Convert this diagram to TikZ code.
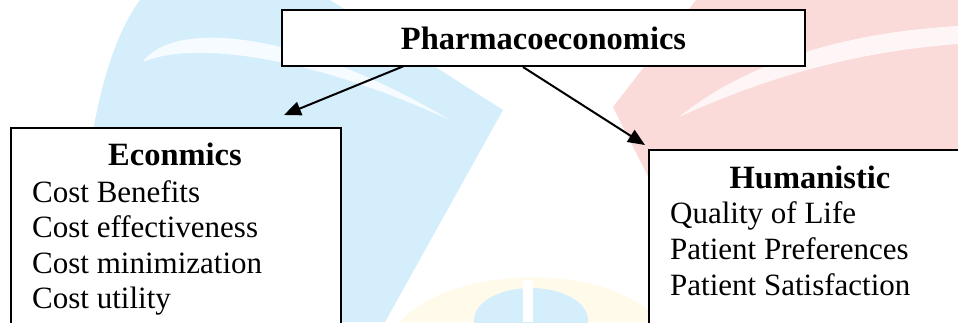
\documentclass[tikz,border=0pt]{standalone}
\usepackage{fontspec}
\setmainfont{Liberation Serif}
\usetikzlibrary{arrows.meta}
\definecolor{wblue}{HTML}{D5EEFB}
\definecolor{wpink}{HTML}{FBDADA}
\definecolor{wyell}{HTML}{FFFAEA}
\tikzset{
  boxnode/.style={draw=black, line width=1.7pt, fill=white, inner sep=0pt},
  txt/.style={font=\fontsize{31}{34}\selectfont, inner sep=0pt},
  btxt/.style={font=\fontsize{32.5}{35}\selectfont\bfseries, inner sep=0pt},
  arr/.style={line width=2pt, -{Triangle[length=17pt,width=14pt]}}
}
\begin{document}
\begin{tikzpicture}[x=1pt,y=-1pt]
\useasboundingbox (0,0) rectangle (958,322);
\clip (0,0) rectangle (958,322);
\fill[white] (0,0) rectangle (958,322);
% watermark
\fill[wyell] (400,322) .. controls (450,265) and (610,260) .. (660,322) -- cycle;
\fill[wblue] (82,322) .. controls (76,200) and (95,60) .. (140,0) -- (330,0) -- (503,110) -- (385,322) -- cycle;
\fill[white!75!wblue] (143,62) .. controls (170,22) and (290,25) .. (450,120) .. controls (300,52) and (190,42) .. (143,62) -- cycle;
\fill[wpink] (696,0) -- (613,107) -- (665,210) -- (958,322) -- (958,0) -- cycle;
\fill[white!75!wpink] (679,117) .. controls (750,60) and (850,32) .. (958,26) -- (958,44) .. controls (850,52) and (760,80) .. (679,117) -- cycle;
\fill[wblue] (531,320) ellipse [x radius=57, y radius=32];
\draw[white, line width=10pt] (527.5,280) -- (527.5,322);
% boxes
\node[boxnode, minimum width=523pt, minimum height=56pt, btxt] (pe) at (543.5,38) {Pharmacoeconomics};
\node[boxnode, minimum width=330pt, minimum height=260pt, anchor=north west] (eb) at (10,127) {};
\node[boxnode, minimum width=330pt, minimum height=260pt, anchor=north west] (hb) at (648,149) {};
% left texts
\node[btxt, anchor=base] (et) at (175,165) {Econmics};
\node[txt, anchor=base west] (e1) at (32,202) {Cost Benefits};
\node[txt, anchor=base west] (e2) at (32,237) {Cost effectiveness};
\node[txt, anchor=base west] (e3) at (32,273) {Cost minimization};
\node[txt, anchor=base west] (e4) at (32,308) {Cost utility};
% right texts
\node[btxt, anchor=base] (ht) at (810,188) {Humanistic};
\node[txt, anchor=base west] (h1) at (670,223.5) {Quality of Life};
\node[txt, anchor=base west] (h2) at (670,259.5) {Patient Preferences};
\node[txt, anchor=base west] (h3) at (670,295.5) {Patient Satisfaction};
% connectors
\coordinate (s1) at (404,66);
\coordinate (t1) at (284,115);
\coordinate (s2) at (523,67);
\coordinate (t2) at (645,145);
\draw[arr] (s1) -- (t1);
\draw[arr] (s2) -- (t2);
\end{tikzpicture}
\end{document}
